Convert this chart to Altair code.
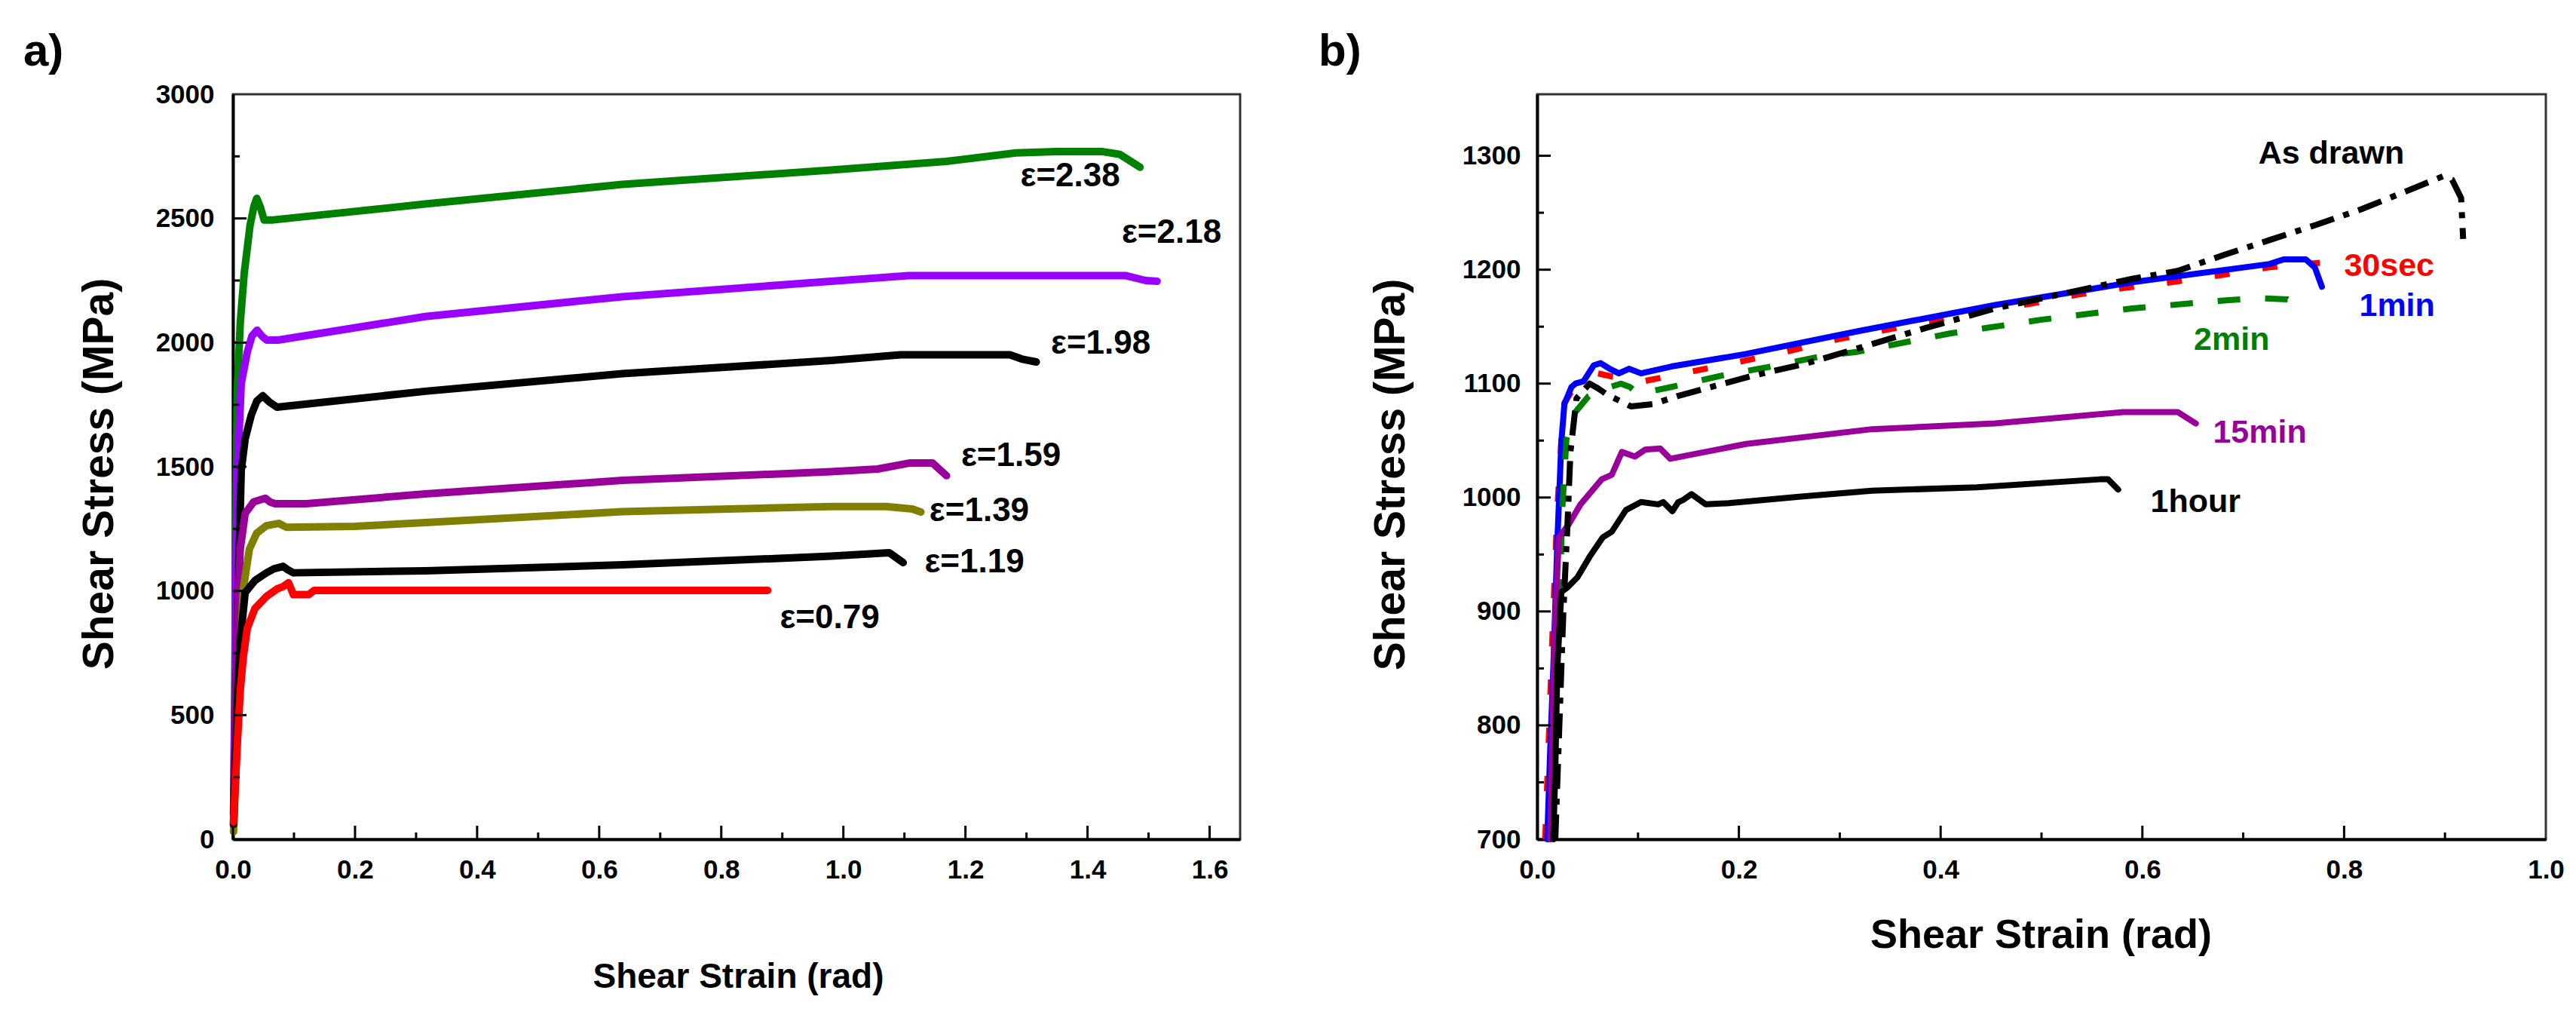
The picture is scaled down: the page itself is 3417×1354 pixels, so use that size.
import altair as alt
import pandas as pd

FONT = "Liberation Sans"

# ---------------- panel a: drawn to different strains ----------------
a_xticks = [0.0, 0.2, 0.4, 0.6, 0.8, 1.0, 1.2, 1.4, 1.6]
a_xminor = [0.1, 0.3, 0.5, 0.7, 0.9, 1.1, 1.3, 1.5]
a_yticks = [0, 500, 1000, 1500, 2000, 2500, 3000]
a_yminor = [250, 750, 1250, 1750, 2250, 2750]

e238_x = [0.001, 0.003, 0.005, 0.007, 0.012, 0.0185, 0.028, 0.0346, 0.039, 0.045, 0.051, 0.066,
          0.315, 0.638, 0.98, 1.169, 1.283, 1.349, 1.425, 1.453, 1.486]
e238_y = [100, 600, 1300, 1804, 2080, 2280, 2472, 2551, 2581, 2545, 2494, 2494,
          2558, 2637, 2695, 2730, 2764, 2769, 2769, 2758, 2706]

e218_x = [0.001, 0.003, 0.005, 0.0074, 0.0136, 0.0235, 0.031, 0.0395, 0.048, 0.0556, 0.074,
          0.315, 0.638, 0.98, 1.107, 1.462, 1.495, 1.514]
e218_y = [80, 500, 1100, 1486, 1835, 1962, 2026, 2050, 2025, 2010, 2010,
          2105, 2185, 2247, 2270, 2270, 2250, 2247]

e198_x = [0.001, 0.004, 0.008, 0.0136, 0.02, 0.03, 0.039, 0.049, 0.06, 0.072,
          0.315, 0.638, 0.98, 1.094, 1.273, 1.292, 1.316]
e198_y = [60, 400, 950, 1486, 1612, 1708, 1764, 1786, 1760, 1740,
          1804, 1875, 1928, 1951, 1951, 1934, 1922]

e159_x = [0.001, 0.004, 0.008, 0.012, 0.02, 0.034, 0.053, 0.061, 0.069, 0.12,
          0.315, 0.638, 0.98, 1.056, 1.108, 1.146, 1.169]
e159_y = [50, 450, 900, 1169, 1312, 1359, 1373, 1358, 1351, 1351,
          1391, 1445, 1480, 1491, 1515, 1515, 1464]

e139_x = [0.001, 0.006, 0.012, 0.017, 0.027, 0.039, 0.055, 0.075, 0.088, 0.2,
          0.315, 0.638, 0.98, 1.07, 1.113, 1.127]
e139_y = [30, 350, 750, 1009, 1169, 1233, 1263, 1272, 1256, 1260,
          1275, 1319, 1340, 1340, 1330, 1318]

e119_x = [0.001, 0.004, 0.008, 0.012, 0.02, 0.036, 0.055, 0.067, 0.082, 0.09, 0.099,
          0.315, 0.638, 0.98, 1.075, 1.098]
e119_y = [60, 300, 600, 800, 993, 1042, 1073, 1089, 1099, 1085, 1073,
          1081, 1105, 1140, 1154, 1114]

e079_x = [0.001, 0.0068, 0.012, 0.017, 0.0235, 0.036, 0.055, 0.073, 0.082, 0.091, 0.095,
          0.099, 0.124, 0.133, 0.876]
e079_y = [70, 368, 600, 735, 850, 929, 978, 1009, 1017, 1033, 1010,
          985, 985, 1002, 1002]

a_names = ["ε=2.38", "ε=2.18", "ε=1.98", "ε=1.59", "ε=1.39", "ε=1.19", "ε=0.79"]
a_colors = ["#008000", "#9900ff", "#000000", "#990099", "#808000", "#000000", "#ff0000"]
a_label_x = [1.290, 1.456, 1.340, 1.193, 1.141, 1.133, 0.896]
a_label_y = [2668, 2441, 1995, 1541, 1321, 1114, 890]

# ---------------- panel b: annealing time ----------------
b_xticks = [0.0, 0.2, 0.4, 0.6, 0.8, 1.0]
b_xminor = [0.1, 0.3, 0.5, 0.7, 0.9]
b_yticks = [700, 800, 900, 1000, 1100, 1200, 1300]
b_yminor = [750, 850, 950, 1050, 1150, 1250]

drawn_x = [0.018, 0.022, 0.026, 0.030, 0.033, 0.039, 0.052, 0.060, 0.070, 0.093, 0.115, 0.139,
           0.164, 0.214, 0.264, 0.318, 0.386, 0.454, 0.522, 0.590, 0.635, 0.681, 0.726, 0.771,
           0.817, 0.862, 0.898, 0.907, 0.916, 0.918]
drawn_y = [700, 800, 900, 975, 1040, 1087, 1100, 1096, 1090, 1080, 1082, 1089,
           1095, 1107, 1117, 1131, 1149, 1166, 1179, 1192, 1199, 1213, 1226, 1239,
           1253, 1269, 1282, 1279, 1263, 1227]

sec30_x = [0.008, 0.012, 0.016, 0.020, 0.024, 0.027, 0.034, 0.045, 0.060, 0.075, 0.090, 0.105,
           0.150, 0.200, 0.247, 0.293, 0.391, 0.439, 0.488, 0.535, 0.582, 0.629, 0.676, 0.725,
           0.750, 0.776]
sec30_y = [700, 800, 900, 990, 1050, 1083, 1093, 1100, 1109, 1106, 1104, 1102,
           1110, 1119, 1128, 1138, 1155, 1164, 1170, 1178, 1184, 1189, 1195, 1202,
           1204, 1206]

min1_x = [0.010, 0.013, 0.016, 0.020, 0.024, 0.027, 0.034, 0.038, 0.046, 0.056, 0.063, 0.072,
          0.081, 0.091, 0.103, 0.133, 0.207, 0.318, 0.454, 0.590, 0.726, 0.740, 0.762, 0.771,
          0.778]
min1_y = [700, 780, 850, 961, 1049, 1082, 1097, 1100, 1102, 1116, 1118, 1113,
          1109, 1113, 1109, 1115, 1126, 1146, 1169, 1189, 1205, 1209, 1209, 1202,
          1185]

min2_x = [0.014, 0.018, 0.022, 0.025, 0.029, 0.036, 0.051, 0.065, 0.083, 0.092, 0.100, 0.133,
          0.183, 0.232, 0.282, 0.318, 0.409, 0.499, 0.590, 0.681, 0.717, 0.744, 0.760]
min2_y = [700, 800, 900, 991, 1051, 1073, 1089, 1095, 1100, 1097, 1091, 1097,
          1107, 1115, 1124, 1128, 1144, 1156, 1166, 1173, 1175, 1174, 1164]

min15_x = [0.013, 0.015, 0.017, 0.0215, 0.031, 0.043, 0.064, 0.074, 0.084, 0.097, 0.107, 0.122,
           0.132, 0.207, 0.332, 0.454, 0.581, 0.635, 0.653]
min15_y = [700, 790, 872, 965, 976, 994, 1016, 1020, 1040, 1036, 1042, 1043,
           1034, 1047, 1060, 1065, 1075, 1075, 1065]

hour1_x = [0.016, 0.018, 0.020, 0.024, 0.030, 0.040, 0.052, 0.065, 0.074, 0.088, 0.103, 0.120,
           0.125, 0.134, 0.140, 0.145, 0.153, 0.167, 0.190, 0.264, 0.332, 0.436, 0.558, 0.566,
           0.576]
hour1_y = [700, 760, 850, 917, 921, 930, 948, 965, 970, 989, 996, 994,
           996, 988, 996, 998, 1003, 994, 995, 1001, 1006, 1009, 1016, 1016,
           1007]

b_names = ["As drawn", "30sec", "1min", "2min", "15min", "1hour"]
b_colors = ["#000000", "#ff0000", "#0000ff", "#008000", "#990099", "#000000"]
b_label_x = [0.715, 0.800, 0.815, 0.651, 0.670, 0.608]
b_label_y = [1302, 1203, 1168, 1138, 1057, 996]


def curve(xs, ys, color, width, xe, ye, dash=None):
    df = pd.DataFrame({"x": xs, "y": ys, "i": list(range(len(xs)))})
    kw = dict(color=color, strokeWidth=width, strokeJoin="round")
    if dash:
        kw["strokeDash"] = dash
        kw["strokeCap"] = "butt"
    else:
        kw["strokeCap"] = "round"
    return alt.Chart(df).mark_line(**kw).encode(x=xe, y=ye, order="i:Q")


def inner_ticks(xmaj, xmin, ymaj, ymin, xe, ye, h):
    # ticks drawn inward, as in the original figure
    out = []
    for vals, n in ((xmaj, 18), (xmin, 9)):
        out.append(alt.Chart(pd.DataFrame({"x": vals})).mark_rule(color="black", strokeWidth=3)
                   .encode(x=xe, y=alt.value(h), y2=alt.value(h - n)))
    for vals, n in ((ymaj, 18), (ymin, 9)):
        out.append(alt.Chart(pd.DataFrame({"y": vals})).mark_rule(color="black", strokeWidth=3)
                   .encode(y=ye, x=alt.value(0), x2=alt.value(n)))
    return out


def labels(xs, ys, names, colors, size, xe, ye):
    df = pd.DataFrame({"x": xs, "y": ys, "t": names, "c": colors})
    return alt.Chart(df).mark_text(align="left", baseline="middle", font=FONT,
                                   fontSize=size, fontWeight="bold").encode(
        x=xe, y=ye, text="t:N", color=alt.Color("c:N", scale=None))


def tag(text, dx, dy):
    return alt.Chart(pd.DataFrame({"t": [text]})).mark_text(
        align="left", baseline="top", font=FONT, fontSize=60, fontWeight="bold", color="black"
    ).encode(text="t:N", x=alt.value(dx), y=alt.value(dy))


# panel a
AW, AH = 1336, 988
ax = alt.X("x:Q", scale=alt.Scale(domain=[0, 1.65], nice=False, zero=False),
           axis=alt.Axis(values=a_xticks, format=".1f", title="Shear Strain (rad)",
                         titleX=670, titleY=182, titleAlign="center", titleBaseline="middle",
                         titleFontSize=46, labelPadding=23))
ay = alt.Y("y:Q", scale=alt.Scale(domain=[0, 3000], nice=False, zero=False),
           axis=alt.Axis(values=a_yticks, format="d", title="Shear Stress (MPa)",
                         titleX=-177, titleY=503, titleAngle=270, titleAlign="center",
                         titleBaseline="middle", titleFontSize=57, labelPadding=25))

a_curves = [(e238_x, e238_y), (e218_x, e218_y), (e198_x, e198_y), (e159_x, e159_y),
            (e139_x, e139_y), (e119_x, e119_y), (e079_x, e079_y)]
a_layers = [curve(xs, ys, c, 10, ax, ay) for (xs, ys), c in zip(a_curves, a_colors)]
a_layers += inner_ticks(a_xticks, a_xminor, a_yticks[1:-1], a_yminor, ax, ay, AH)
a_layers.append(labels(a_label_x, a_label_y, a_names, ["black"] * 7, 44, ax, ay))
a_layers.append(tag("a)", -278, -85))
panel_a = alt.layer(*a_layers).properties(width=AW, height=AH)

# panel b
BW, BH = 1338, 988
bx = alt.X("x:Q", scale=alt.Scale(domain=[0, 1.0], nice=False, zero=False),
           axis=alt.Axis(values=b_xticks, format=".1f", title="Shear Strain (rad)",
                         titleX=668, titleY=127, titleAlign="center", titleBaseline="middle",
                         titleFontSize=54, labelPadding=23))
by = alt.Y("y:Q", scale=alt.Scale(domain=[700, 1354], nice=False, zero=False),
           axis=alt.Axis(values=b_yticks, format="d", title="Shear Stress (MPa)",
                         titleX=-194, titleY=504, titleAngle=270, titleAlign="center",
                         titleBaseline="middle", titleFontSize=57, labelPadding=22))

b_layers = [
    curve(sec30_x, sec30_y, "#ff0000", 8, bx, by, dash=[20, 44]),
    curve(min1_x, min1_y, "#0000ff", 8, bx, by),
    curve(min2_x, min2_y, "#008000", 8, bx, by, dash=[30, 33]),
    curve(min15_x, min15_y, "#990099", 8, bx, by),
    curve(hour1_x, hour1_y, "#000000", 8, bx, by),
    curve(drawn_x, drawn_y, "#000000", 8, bx, by, dash=[33, 13, 8, 13]),
]
b_layers += inner_ticks(b_xticks[1:-1], b_xminor, b_yticks[1:], b_yminor, bx, by, BH)
b_layers.append(labels(b_label_x, b_label_y, b_names, b_colors, 43, bx, by))
b_layers.append(tag("b)", -290, -85))
panel_b = alt.layer(*b_layers).properties(width=BW, height=BH)

chart = alt.hconcat(panel_a, panel_b, spacing=100).properties(
    padding={"left": 21, "top": 29, "right": 5, "bottom": 5}
).configure_view(
    stroke="#333333", strokeWidth=3
).configure_axis(
    labelFont=FONT, labelFontSize=35, labelFontWeight="bold", labelColor="black",
    titleFont=FONT, titleFontWeight="bold", titleColor="black",
    domainColor="black", domainWidth=4, grid=False, ticks=False,
    labelOverlap=False, labelFlush=False
)

chart.save("out.html", embed_options={"renderer": "svg", "actions": False})
